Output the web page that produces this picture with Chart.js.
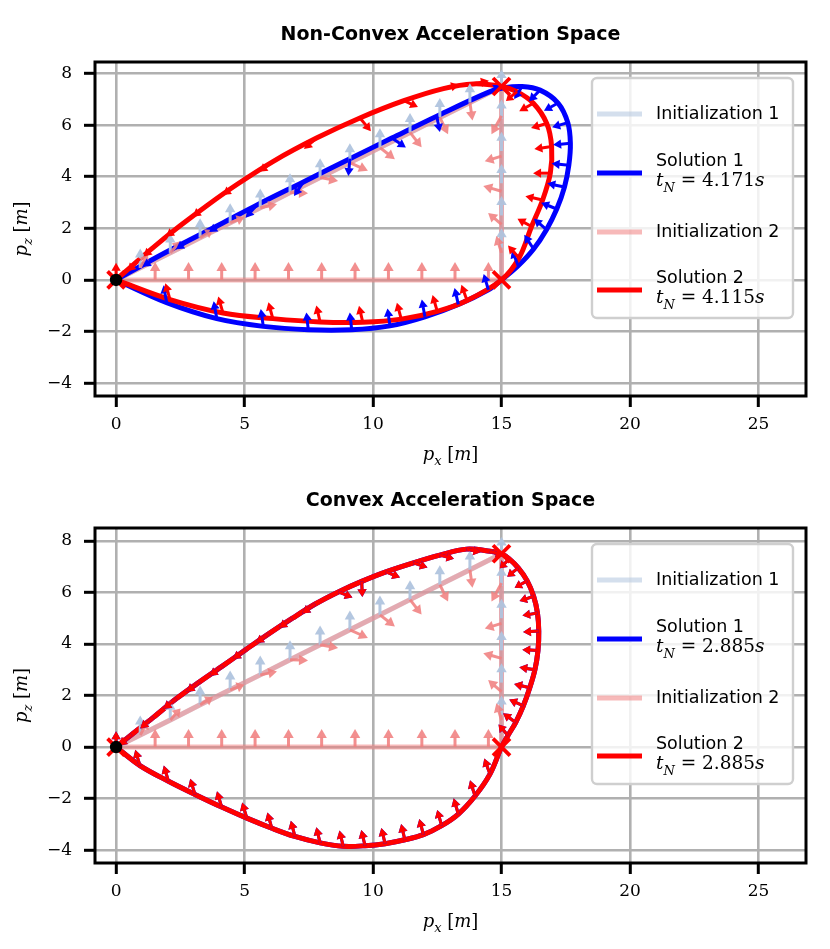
<!DOCTYPE html>
<html>
<head>
<meta charset="utf-8">
<script src="https://cdn.jsdelivr.net/npm/chart.js@4.4.1/dist/chart.umd.min.js"></script>
<style>
  body { margin: 0; background: #fff; }
  canvas { display: block; }
</style>
</head>
<body>
<canvas id="nonconvex" width="830" height="475"></canvas>
<canvas id="convex" width="830" height="474"></canvas>
<script>
// ticks shared by both panels
const xTicks = [0, 5, 10, 15, 20, 25];
const zTicks = [-4, -2, 0, 2, 4, 6, 8];

// waypoints (red crosses) and start (black dot)
const waypointsX = [0, 15, 15];
const waypointsZ = [0, 0, 7.5];

// rows: [px, pz, ax, az]  (node position + acceleration arrow)
const initialization1 = [
  [0, 0, 0, 0],
  [0.94, 0.47, 0, 0.75], [2.11, 1.05, 0, 0.75], [3.27, 1.64, 0, 0.75], [4.44, 2.22, 0, 0.75],
  [5.61, 2.8, 0, 0.75], [6.77, 3.39, 0, 0.75], [7.94, 3.97, 0, 0.75], [9.1, 4.55, 0, 0.75],
  [10.27, 5.13, 0, 0.75], [11.44, 5.72, 0, 0.75], [12.6, 6.3, 0, 0.75], [13.77, 6.88, 0, 0.75],
  [15, 7.5, 0, 0.65], [15, 6.25, 0, 0.75], [15, 5.0, 0, 0.75], [15, 3.75, 0, 0.75],
  [15, 2.5, 0, 0.75], [15, 1.25, 0, 0.75], [15, 0.3, 0, 0]
];

const initialization2 = [
  [0, 0, 0, 0],
  [1.52, 0, 0, 0.7], [2.82, 0, 0, 0.7], [4.11, 0, 0, 0.7], [5.41, 0, 0, 0.7], [6.71, 0, 0, 0.7],
  [8.0, 0, 0, 0.7], [9.3, 0, 0, 0.7], [10.6, 0, 0, 0.7], [11.9, 0, 0, 0.7], [13.19, 0, 0, 0.7],
  [14.49, 0, 0, 0.7], [15, 0, 0, 0],
  [15, 1.05, -0.2, 0.65], [15, 2.15, -0.52, 0.45], [15, 3.44, -0.71, 0.2], [15, 4.8, -0.65, -0.2],
  [15, 6.36, -0.39, -0.71], [15, 7.5, 0, 0],
  [13.77, 6.88, 0.1, -0.7], [12.6, 6.3, 0.32, -0.65], [11.44, 5.72, 0.45, -0.58], [10.27, 5.13, 0.58, -0.45],
  [9.1, 4.55, 0.7, -0.32], [7.94, 3.97, 0.7, -0.13], [6.77, 3.39, 0.7, -0.03], [5.61, 2.8, 0.65, 0.13],
  [4.44, 2.22, 0.55, 0.2], [3.27, 1.64, 0.5, 0.3], [2.11, 1.05, 0.4, 0.45], [0.94, 0.47, 0.3, 0.55],
  [0, 0, 0, 0]
];

const solution1NonConvex = [
  [0, 0, 0, 0],
  [1.97, -0.88, -0.1, 0.55], [3.92, -1.5, -0.1, 0.55], [5.73, -1.8, -0.08, 0.55], [7.48, -1.93, -0.06, 0.55],
  [9.17, -1.93, -0.06, 0.55], [10.66, -1.78, -0.08, 0.55], [12.02, -1.43, -0.1, 0.55], [13.32, -0.95, -0.12, 0.52],
  [14.49, -0.38, -0.15, 0.5], [15, 0, 0, 0],
  [15.65, 0.55, -0.2, 0.5], [16.25, 1.2, -0.3, 0.45], [16.75, 1.95, -0.4, 0.35], [17.15, 2.75, -0.5, 0.2],
  [17.45, 3.6, -0.55, 0.12], [17.62, 4.45, -0.55, 0.05], [17.68, 5.3, -0.55, -0.05], [17.58, 6.1, -0.5, -0.15],
  [17.2, 6.86, -0.45, -0.25], [16.5, 7.36, -0.35, -0.35], [15.8, 7.5, -0.25, -0.4], [15.1, 7.45, 0, 0],
  [14.55, 7.3, 0.3, 0.2], [12.48, 6.35, 0.1, -0.5], [10.73, 5.5, 0.45, -0.3], [9.1, 4.7, -0.05, -0.55],
  [7.29, 3.8, -0.3, -0.45], [5.47, 2.9, -0.35, -0.4], [4.17, 2.22, -0.45, -0.3], [2.88, 1.56, -0.45, -0.3],
  [1.58, 0.88, -0.45, -0.3], [0, 0, 0, 0]
];

const solution2NonConvex = [
  [0, 0, 0, 0.55],
  [2.1, -0.76, -0.15, 0.52], [4.16, -1.28, -0.15, 0.52], [6.1, -1.5, -0.14, 0.52], [7.94, -1.63, -0.12, 0.52],
  [9.6, -1.64, -0.12, 0.52], [11.1, -1.52, -0.14, 0.52], [12.5, -1.22, -0.15, 0.52], [13.66, -0.8, -0.18, 0.5],
  [15, 0, 0, 0],
  [15.68, 0.85, -0.35, 0.4], [16.17, 2.07, -0.45, 0.25], [16.6, 3.1, -0.55, 0.12], [16.9, 4.14, -0.55, 0],
  [16.95, 5.17, -0.55, -0.08], [16.76, 6.07, -0.5, -0.15], [16.24, 6.85, -0.45, -0.25], [15.6, 7.3, -0.35, -0.3],
  [15, 7.5, 0, 0],
  [13.9, 7.6, 0.5, 0.1], [12.74, 7.42, 0.5, 0.12], [11.2, 6.95, 0.45, -0.2], [9.49, 6.28, 0.35, -0.42],
  [7.8, 5.5, -0.4, -0.35], [6.12, 4.6, -0.45, -0.33], [4.7, 3.7, -0.45, -0.33], [3.53, 2.88, -0.45, -0.35],
  [2.49, 2.1, -0.45, -0.35], [1.58, 1.37, -0.42, -0.38], [0.93, 0.82, -0.4, -0.4], [0, 0, 0, 0]
];

const solution2Convex = [
  [0, 0, 0, 0.5],
  [0.93, -0.72, -0.15, 0.5], [2.04, -1.33, -0.15, 0.5], [3.07, -1.84, -0.15, 0.5], [4.11, -2.33, -0.15, 0.5],
  [5.09, -2.76, -0.15, 0.5], [6.06, -3.15, -0.14, 0.5], [6.96, -3.47, -0.13, 0.5], [7.94, -3.72, -0.12, 0.5],
  [8.84, -3.85, -0.12, 0.5], [9.69, -3.83, -0.12, 0.5], [10.47, -3.75, -0.12, 0.5], [11.24, -3.6, -0.12, 0.5],
  [11.96, -3.4, -0.13, 0.5], [12.67, -3.05, -0.14, 0.5], [13.32, -2.6, -0.15, 0.5], [13.97, -1.9, -0.16, 0.5],
  [14.55, -1.05, -0.18, 0.5], [15, 0, 0, 0],
  [15.25, 0.45, -0.3, 0.35], [15.55, 0.95, -0.4, 0.3], [15.85, 1.6, -0.45, 0.2], [16.1, 2.3, -0.5, 0.12],
  [16.3, 3.0, -0.5, 0.08], [16.42, 3.75, -0.5, 0.02], [16.45, 4.5, -0.5, -0.03], [16.4, 5.2, -0.48, -0.08],
  [16.25, 5.85, -0.45, -0.15], [16.0, 6.45, -0.4, -0.22], [15.65, 6.95, -0.35, -0.28], [15.3, 7.3, -0.3, -0.3],
  [15, 7.5, 0, 0],
  [14.55, 7.6, 0.4, -0.12], [13.64, 7.68, 0.45, -0.1], [12.6, 7.45, 0.45, -0.12], [11.57, 7.15, 0.45, -0.15],
  [10.5, 6.8, 0.45, -0.18], [9.56, 6.43, 0.02, -0.5], [8.65, 6.02, 0.45, -0.18], [7.75, 5.55, -0.42, -0.3],
  [6.85, 4.99, -0.42, -0.3], [5.95, 4.4, -0.42, -0.3], [5.05, 3.78, -0.42, -0.3], [4.15, 3.15, -0.42, -0.32],
  [3.25, 2.53, -0.42, -0.32], [2.35, 1.88, -0.42, -0.33], [1.45, 1.15, -0.42, -0.35], [0.6, 0.48, -0.4, -0.35],
  [0, 0, 0, 0]
];
// in the convex case both solutions converge to the same trajectory
const solution1Convex = solution2Convex;

const legendLabels = ['Initialization 1', 'Solution 1', 'Initialization 2', 'Solution 2'];
const timesNonConvex = ['4.171', '4.115'];
const timesConvex = ['2.885', '2.885'];

const colInit1 = 'rgba(176,196,222,0.55)';
const colInit1Arrow = 'rgba(176,196,222,0.95)';
const colInit2 = 'rgba(240,128,128,0.55)';
const colInit2Arrow = 'rgba(240,128,128,0.88)';
const colSol1 = '#0000ff';
const colSol2 = '#ff0000';

function toPoints(rows) {
  return rows.map(r => ({ x: r[0], y: r[1], u: r[2], v: r[3] }));
}

function fmt(v) {
  return v < 0 ? '\u2212' + Math.abs(v) : String(v);
}

function richText(ctx, x, y, parts, size, align) {
  const fonts = {
    i: `italic ${size}px "DejaVu Serif"`,
    r: `${size}px "DejaVu Serif"`,
    sub: `italic ${Math.round(size * 0.72)}px "DejaVu Serif"`
  };
  let total = 0;
  parts.forEach(p => { ctx.font = fonts[p[1]]; total += ctx.measureText(p[0]).width; });
  let cx = align === 'center' ? x - total / 2 : x;
  ctx.textAlign = 'left';
  ctx.textBaseline = 'alphabetic';
  parts.forEach(p => {
    ctx.font = fonts[p[1]];
    ctx.fillText(p[0], cx, p[1] === 'sub' ? y + size * 0.3 : y);
    cx += ctx.measureText(p[0]).width;
  });
}

function drawArrow(ctx, x0, y0, x1, y1, shaft, hl, hw) {
  const dx = x1 - x0, dy = y1 - y0, len = Math.hypot(dx, dy);
  if (len < 0.5) return;
  const ux = dx / len, uy = dy / len;
  const h = Math.min(hl, len * 0.5);
  const bx = x1 - ux * h, by = y1 - uy * h;
  ctx.lineWidth = shaft;
  ctx.beginPath();
  ctx.moveTo(x0, y0);
  ctx.lineTo(bx + ux * 0.5, by + uy * 0.5);
  ctx.stroke();
  ctx.beginPath();
  ctx.moveTo(x1, y1);
  ctx.lineTo(bx - uy * hw, by + ux * hw);
  ctx.lineTo(bx + uy * hw, by - ux * hw);
  ctx.closePath();
  ctx.fill();
}

const extras = {
  id: 'extras',
  afterDatasetsDraw(chart) {
    const ctx = chart.ctx, xs = chart.scales.x, ys = chart.scales.y, a = chart.chartArea;
    ctx.save();
    ctx.beginPath();
    ctx.rect(a.left, a.top, a.right - a.left, a.bottom - a.top);
    ctx.clip();
    // quiver arrows, drawn after all lines
    const sets = chart.data.datasets.slice().sort((p, q) => q.order - p.order);
    sets.forEach(ds => {
      ctx.strokeStyle = ds.arrowColor;
      ctx.fillStyle = ds.arrowColor;
      const k = ds.arrowScale;
      ds.data.forEach(d => {
        if (!d.u && !d.v) return;
        drawArrow(ctx,
          xs.getPixelForValue(d.x), ys.getPixelForValue(d.y),
          xs.getPixelForValue(d.x + d.u * k), ys.getPixelForValue(d.y + d.v * k),
          ds.arrowShaft, ds.arrowHead, ds.arrowHead * 0.58);
      });
    });
    // waypoints
    ctx.strokeStyle = colSol2;
    ctx.lineWidth = 3.8;
    waypointsX.forEach((wx, i) => {
      const px = xs.getPixelForValue(wx), py = ys.getPixelForValue(waypointsZ[i]);
      ctx.beginPath();
      ctx.moveTo(px - 8.5, py - 8.5); ctx.lineTo(px + 8.5, py + 8.5);
      ctx.moveTo(px - 8.5, py + 8.5); ctx.lineTo(px + 8.5, py - 8.5);
      ctx.stroke();
    });
    ctx.fillStyle = '#000';
    ctx.beginPath();
    ctx.arc(xs.getPixelForValue(waypointsX[0]), ys.getPixelForValue(waypointsZ[0]), 6.2, 0, Math.PI * 2);
    ctx.fill();
    ctx.restore();
  },
  afterDraw(chart, args, opts) {
    const ctx = chart.ctx, a = chart.chartArea;
    ctx.save();
    // frame
    ctx.strokeStyle = '#000';
    ctx.lineWidth = 3;
    ctx.strokeRect(a.left, a.top, a.right - a.left, a.bottom - a.top);
    // title
    ctx.fillStyle = '#000';
    ctx.font = 'bold 19px "DejaVu Sans"';
    ctx.textAlign = 'center';
    ctx.textBaseline = 'middle';
    ctx.fillText(opts.title, (a.left + a.right) / 2, a.top - 27);
    // axis labels
    richText(ctx, (a.left + a.right) / 2, a.bottom + 64, [['p', 'i'], ['x', 'sub'], [' [', 'r'], ['m', 'i'], [']', 'r']], 18, 'center');
    ctx.save();
    ctx.translate(27, (a.top + a.bottom) / 2);
    ctx.rotate(-Math.PI / 2);
    richText(ctx, 0, 0, [['p', 'i'], ['z', 'sub'], [' [', 'r'], ['m', 'i'], [']', 'r']], 18, 'center');
    ctx.restore();
    // legend
    const bx = a.left + 497, by = a.top + 16, bw = 201, bh = 240;
    ctx.fillStyle = 'rgba(255,255,255,0.82)';
    ctx.strokeStyle = '#cfcfcf';
    ctx.lineWidth = 2.4;
    ctx.beginPath();
    ctx.roundRect(bx, by, bw, bh, 5);
    ctx.fill();
    ctx.stroke();
    const entries = [
      { color: colInit1, y: 52, text: [legendLabels[0]] },
      { color: colSol1, y: 111, text: [legendLabels[1]], t: opts.times[0] },
      { color: colInit2, y: 170, text: [legendLabels[2]] },
      { color: colSol2, y: 228, text: [legendLabels[3]], t: opts.times[1] }
    ];
    entries.forEach(e => {
      ctx.strokeStyle = e.color;
      ctx.lineWidth = 5;
      ctx.beginPath();
      ctx.moveTo(a.left + 502, a.top + e.y);
      ctx.lineTo(a.left + 547, a.top + e.y);
      ctx.stroke();
      ctx.fillStyle = '#000';
      ctx.font = '17.5px "DejaVu Sans"';
      ctx.textAlign = 'left';
      ctx.textBaseline = 'middle';
      if (e.t) {
        ctx.fillText(e.text[0], a.left + 561, a.top + e.y - 12);
        richText(ctx, a.left + 561, a.top + e.y + 13, [['t', 'i'], ['N', 'sub'], [' = ' + e.t, 'r'], ['s', 'i']], 18.5, 'left');
      } else {
        ctx.fillText(e.text[0], a.left + 561, a.top + e.y);
      }
    });
    ctx.restore();
  }
};

function lineSet(rows, color, arrowColor, width, tension, order, shaft, head, scale) {
  return {
    data: toPoints(rows),
    showLine: true,
    borderColor: color,
    borderWidth: width,
    pointRadius: 0,
    tension: tension,
    order: order,
    arrowColor: arrowColor,
    arrowShaft: shaft,
    arrowHead: head,
    arrowScale: scale
  };
}

function makeChart(id, cfg) {
  const gridOpts = { color: '#b0b0b0', lineWidth: 2.6, tickLength: 11, tickColor: '#000', tickWidth: 3 };
  return new Chart(document.getElementById(id), {
    type: 'scatter',
    data: {
      datasets: [
        lineSet(initialization1, colInit1, colInit1Arrow, 5, 0, 4, 3, 9, 1),
        lineSet(initialization2, colInit2, colInit2Arrow, 5, 0, 3, 3, 9, 1),
        lineSet(cfg.sol1, colSol1, colSol1, 5, 0.35, 2, 3, 8, 1.22),
        lineSet(cfg.sol2, colSol2, colSol2, 5, 0.35, 1, 3, 8, 1.22)
      ]
    },
    options: {
      responsive: false,
      animation: false,
      layout: { padding: { top: cfg.padTop, right: 24, left: 0, bottom: 0 } },
      plugins: {
        legend: { display: false },
        tooltip: { enabled: false },
        extras: { title: cfg.title, times: cfg.times }
      },
      scales: {
        x: {
          type: 'linear', min: -0.82, max: 26.85,
          afterBuildTicks: s => { s.ticks = xTicks.map(v => ({ value: v })); },
          afterFit: s => { s.height = cfg.xAxisH; },
          grid: gridOpts,
          border: { display: false },
          ticks: { color: '#000', font: { family: 'DejaVu Serif', size: 17 }, padding: 7, maxRotation: 0, autoSkip: false, callback: v => fmt(v) }
        },
        y: {
          type: 'linear', min: -4.5, max: cfg.yMax,
          afterBuildTicks: s => { s.ticks = zTicks.map(v => ({ value: v })); },
          afterFit: s => { s.width = 95; },
          grid: gridOpts,
          border: { display: false },
          ticks: { color: '#000', font: { family: 'DejaVu Serif', size: 17 }, padding: 12, autoSkip: false, callback: v => fmt(v) }
        }
      }
    },
    plugins: [extras]
  });
}

makeChart('nonconvex', {
  title: 'Non-Convex Acceleration Space', times: timesNonConvex,
  sol1: solution1NonConvex, sol2: solution2NonConvex,
  padTop: 62, xAxisH: 79, yMax: 8.45
});
makeChart('convex', {
  title: 'Convex Acceleration Space', times: timesConvex,
  sol1: solution1Convex, sol2: solution2Convex,
  padTop: 53, xAxisH: 86, yMax: 8.5
});
</script>
</body>
</html>
